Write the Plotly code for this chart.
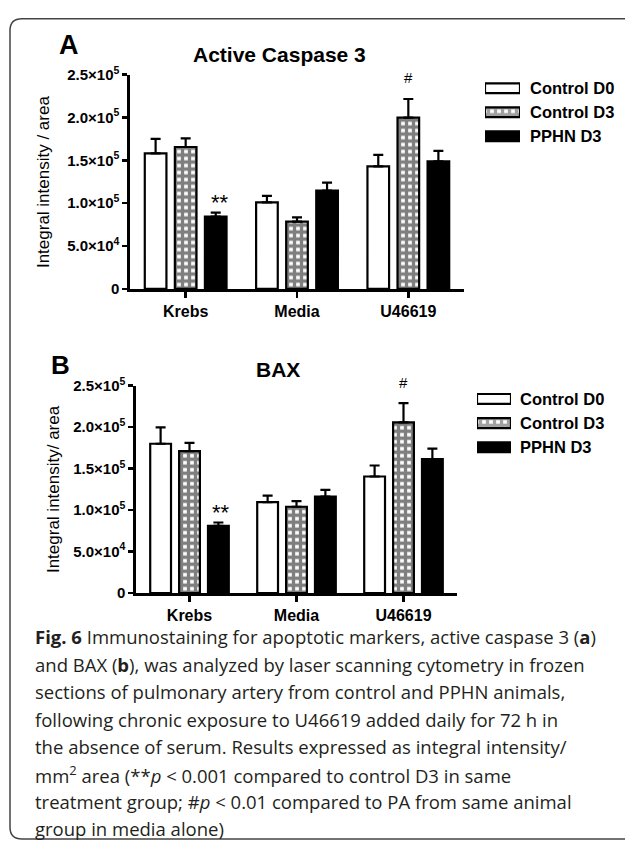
import plotly.graph_objects as go

# ---------------- data ----------------
categories = ["Krebs", "Media", "U46619"]
series_names = ["Control D0", "Control D3", "PPHN D3"]

# Panel A: Active Caspase 3 (integral intensity / area)
casp_d0 = [1.58e5, 1.01e5, 1.43e5]
casp_d0_err = [0.17e5, 0.075e5, 0.133e5]
casp_d3 = [1.655e5, 0.785e5, 1.997e5]
casp_d3_err = [0.10e5, 0.05e5, 0.218e5]
casp_pphn = [0.845e5, 1.147e5, 1.489e5]
casp_pphn_err = [0.046e5, 0.092e5, 0.122e5]

# Panel B: BAX
bax_d0 = [1.80e5, 1.097e5, 1.405e5]
bax_d0_err = [0.197e5, 0.078e5, 0.133e5]
bax_d3 = [1.71e5, 1.04e5, 2.058e5]
bax_d3_err = [0.10e5, 0.067e5, 0.232e5]
bax_pphn = [0.81e5, 1.162e5, 1.616e5]
bax_pphn_err = [0.04e5, 0.083e5, 0.125e5]

ytick_vals = [0, 5e4, 1e5, 1.5e5, 2e5, 2.5e5]
ytick_text = ["0", "5.0×10<sup>4</sup>", "1.0×10<sup>5</sup>", "1.5×10<sup>5</sup>",
              "2.0×10<sup>5</sup>", "2.5×10<sup>5</sup>"]

caption_lines = [
    "<b>Fig. 6</b> Immunostaining for apoptotic markers, active caspase 3 (<b>a</b>)",
    "and BAX (<b>b</b>), was analyzed by laser scanning cytometry in frozen",
    "sections of pulmonary artery from control and PPHN animals,",
    "following chronic exposure to U46619 added daily for 72 h in",
    "the absence of serum. Results expressed as integral intensity/",
    "mm<sup>2</sup> area (**<i>p</i> &lt; 0.001 compared to control D3 in same",
    "treatment group; #<i>p</i> &lt; 0.01 compared to PA from same animal",
    "group in media alone)",
]

# ---------------- helpers ----------------
W, H = 625, 850
def px(x):
    return x / W
def py(y):
    return 1 - y / H

ARIAL = "Liberation Sans, Arial, sans-serif"
CHECK = dict(shape="+", fgcolor="black", bgcolor="white", size=7, solidity=0.72)
styles = [
    dict(color="white", pattern=dict(shape="")),
    dict(color="white", pattern=CHECK),
    dict(color="black", pattern=dict(shape="")),
]

fig = go.Figure()

panelA = [(casp_d0, casp_d0_err), (casp_d3, casp_d3_err), (casp_pphn, casp_pphn_err)]
panelB = [(bax_d0, bax_d0_err), (bax_d3, bax_d3_err), (bax_pphn, bax_pphn_err)]

for (xa, ya), panel in (("x", "y"), panelA), (("x2", "y2"), panelB):
    for name, (vals, errs), st in zip(series_names, panel, styles):
        fig.add_trace(go.Bar(
            x=categories, y=vals, name=name, xaxis=xa, yaxis=ya, showlegend=False,
            marker=dict(color=st["color"], line=dict(color="black", width=2.2),
                        pattern=st["pattern"]),
            error_y=dict(type="data", symmetric=False, array=errs,
                         arrayminus=[0] * len(errs), color="black", thickness=2.2, width=5),
            cliponaxis=False,
        ))

# legend swatches as small horizontal bars on hidden axes
legend_ones = [1, 1, 1]
legend_pos = [0, 1, 2]
for xa, ya in (("x3", "y3"), ("x4", "y4")):
    fig.add_trace(go.Bar(
        x=legend_ones, y=legend_pos, orientation="h", xaxis=xa, yaxis=ya, showlegend=False,
        width=0.41, cliponaxis=False, hoverinfo="skip",
        marker=dict(color=[s["color"] for s in styles],
                    line=dict(color="black", width=2.2),
                    pattern=dict(shape=["", "+", ""], fgcolor="black", bgcolor="white",
                                 size=CHECK["size"], solidity=CHECK["solidity"])),
    ))

xcommon = dict(type="category", showline=True, linecolor="black", linewidth=2.6,
               ticks="outside", ticklen=6, tickwidth=2.6, tickcolor="black",
               tickfont=dict(family=ARIAL, size=16, color="black", weight="bold"),
               showgrid=False, zeroline=False, fixedrange=True)
ycommon = dict(range=[0, 2.5e5], tickvals=ytick_vals, ticktext=ytick_text,
               showline=True, linecolor="black", linewidth=2.6,
               ticks="outside", ticklen=5, tickwidth=2.6, tickcolor="black",
               tickfont=dict(family=ARIAL, size=15, color="black", weight="bold"),
               showgrid=False, zeroline=False, fixedrange=True)
hidden = dict(visible=False, fixedrange=True)

fig.update_layout(
    width=W, height=H, margin=dict(l=0, r=0, t=0, b=0),
    paper_bgcolor="white", plot_bgcolor="white",
    barmode="group", bargap=0.19, bargroupgap=0.28,
    hovermode=False,
    xaxis=dict(domain=[px(130), px(464)], anchor="y", **xcommon),
    yaxis=dict(domain=[py(284.3), py(65)], anchor="x", **ycommon),
    xaxis2=dict(domain=[px(136), px(457)], anchor="y2", **xcommon),
    yaxis2=dict(domain=[py(595.3), py(383.3)], anchor="x2", **ycommon),
    xaxis3=dict(domain=[px(485), px(520)], anchor="y3", range=[0, 1], **hidden),
    yaxis3=dict(domain=[py(140.25), py(66.75)], anchor="x3", range=[2.5, -0.5], **hidden),
    xaxis4=dict(domain=[px(477), px(511)], anchor="y4", range=[0, 1], **hidden),
    yaxis4=dict(domain=[py(458.5), py(384.5)], anchor="x4", range=[2.5, -0.5], **hidden),
)

ann = []
def text(x, y, t, size, bold=False, family=ARIAL, xanchor="center", angle=0, color="black"):
    ann.append(dict(x=px(x), y=py(y), xref="paper", yref="paper", text=t, showarrow=False,
                    xanchor=xanchor, yanchor="middle", textangle=angle,
                    font=dict(family=family, size=size, color=color,
                              weight="bold" if bold else "normal")))

# panel labels & titles
text(69, 35, "A", 27, bold=True)
text(279.5, 45, "Active Caspase 3", 21, bold=True)
text(60, 362, "B", 26, bold=True)
text(278, 367, "BAX", 21, bold=True)
# y-axis titles
text(43, 175, "Integral intensity / area", 17, angle=-90)
text(53, 489, "Integral intensity/ area", 17, angle=-90)
# significance marks
text(220, 196, "**", 22)
text(408, 68, "#", 15)
text(221, 513, "**", 22)
text(403, 380, "#", 15)
# legend labels
for i, nm in enumerate(series_names):
    text(528, 79 + 24.5 * i, nm, 16.5, bold=True, xanchor="left")
    text(518, 397 + 24.5 * i, nm, 16.5, bold=True, xanchor="left")
# caption
for i, line in enumerate(caption_lines):
    text(33, 640 + 28.1 * i, line, 18.5, family="Open Sans, Noto Sans, sans-serif",
         xanchor="left", color="#231f20")

fig.update_layout(annotations=ann)

# rounded frame (extends past right edge)
L, T, B, R = px(10), py(8), py(847), 1.05
rx, ry = 12 / W, 12 / H
frame = (f"M {R},{T} L {L + rx},{T} Q {L},{T} {L},{T - ry} "
         f"L {L},{B + ry} Q {L},{B} {L + rx},{B} L {R},{B}")
fig.add_shape(type="path", path=frame, xref="paper", yref="paper",
              line=dict(color="#444444", width=1.5))

pin_js = (
    "document.documentElement.style.margin='0';"
    "document.body.style.margin='0';document.body.style.overflow='hidden';"
    "var gd=document.querySelector('.plotly-graph-div');"
    "if(gd){gd.style.position='fixed';gd.style.top='0px';gd.style.left='0px';}"
)
fig.write_html("out.html", config={"displayModeBar": False, "staticPlot": True},
               post_script=pin_js)
